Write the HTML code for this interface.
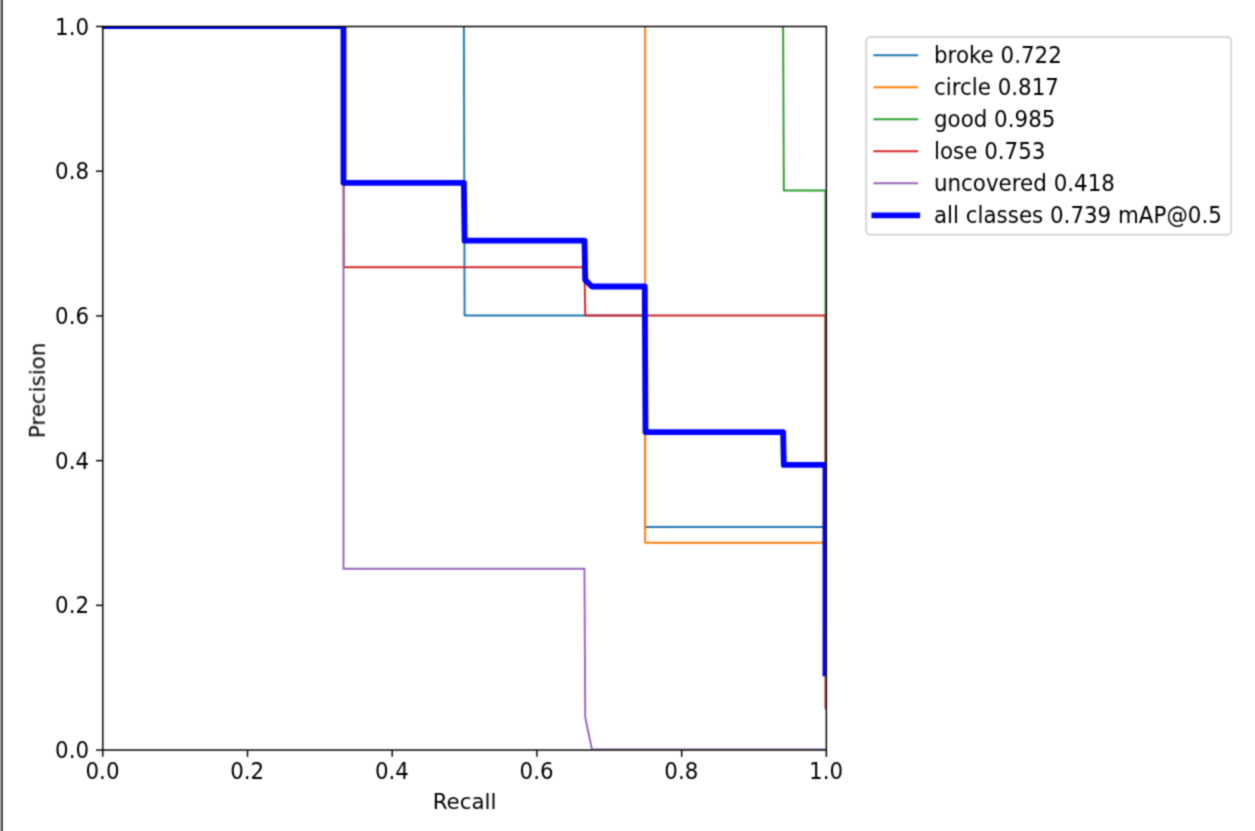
<!DOCTYPE html>
<html lang="en"><head><meta charset="utf-8"><title>Precision-Recall curve</title>
<style>
html,body{margin:0;padding:0;background:#fff;}
body{width:1255px;height:831px;overflow:hidden;position:relative;}
svg{position:absolute;left:0;top:0;display:block;}
text{font-family:"DejaVu Sans","Liberation Sans",sans-serif;font-size:21.40px;fill:#000;}
</style></head><body>
<svg width="1255" height="831" viewBox="0 0 1255 831">
<rect x="0" y="0" width="1255" height="831" fill="#ffffff"/>
<g shape-rendering="crispEdges"><rect x="0" y="0" width="1" height="831" fill="#a2a3a5"/><rect x="1" y="0" width="1" height="831" fill="#6c6d6f"/><rect x="2" y="0" width="1" height="831" fill="#5b5c5e"/><rect x="3" y="0" width="1" height="831" fill="#ececec"/><rect x="4" y="0" width="1" height="831" fill="#fafafa"/></g>
<defs><filter id="bl" color-interpolation-filters="sRGB" x="0" y="0" width="1255" height="831" filterUnits="userSpaceOnUse"><feConvolveMatrix order="3" kernelMatrix="0.0400 0.1200 0.0400 0.1200 0.3600 0.1200 0.0400 0.1200 0.0400" divisor="1" edgeMode="duplicate" preserveAlpha="false"/></filter></defs><g filter="url(#bl)">
<defs><clipPath id="ax"><rect x="102.10" y="26.00" width="723.55" height="723.55"/></clipPath></defs>
<g clip-path="url(#ax)" fill="none" stroke-linejoin="round" stroke-linecap="square">
<path d="M102.10 26.00 L463.88 26.00 L464.60 315.42 L645.12 315.42 L645.12 526.91 L825.45 526.91 L825.45 641.02" stroke="#1f77b4" stroke-width="1.95"/>
<path d="M102.10 26.00 L645.12 26.00 L645.12 542.83 L825.45 542.83 L825.45 641.02" stroke="#ff7f0e" stroke-width="1.95"/>
<path d="M102.10 26.00 L783.11 26.00 L783.83 190.46 L825.45 190.46 L825.45 626.55" stroke="#2ca02c" stroke-width="1.95"/>
<path d="M102.10 26.00 L343.48 26.00 L343.84 267.16 L584.49 267.16 L585.21 315.42 L825.45 315.42 L825.45 708.52" stroke="#d62728" stroke-width="1.95"/>
<path d="M102.10 26.00 L343.48 26.00 L343.48 568.66 L584.49 568.66 L585.21 717.13 L591.94 749.55 L825.45 749.55" stroke="#9467bd" stroke-width="1.95"/>
<path d="M102.10 26.00 L343.48 26.00 L343.48 182.79 L463.88 182.79 L464.60 240.68 L584.49 240.68 L585.21 279.97 L591.94 286.48 L644.76 286.48 L645.49 432.06 L783.11 432.06 L783.83 464.91 L825.45 464.91 L825.45 673.29" stroke="#0000ff" stroke-width="5.83"/>
</g>
<g stroke="#000" stroke-width="1.45" fill="none">
<line x1="102.80" y1="750.05" x2="102.80" y2="756.86"/><line x1="102.80" y1="750.05" x2="95.99" y2="750.05"/>
<line x1="247.51" y1="750.05" x2="247.51" y2="756.86"/><line x1="102.80" y1="605.34" x2="95.99" y2="605.34"/>
<line x1="392.22" y1="750.05" x2="392.22" y2="756.86"/><line x1="102.80" y1="460.63" x2="95.99" y2="460.63"/>
<line x1="536.93" y1="750.05" x2="536.93" y2="756.86"/><line x1="102.80" y1="315.92" x2="95.99" y2="315.92"/>
<line x1="681.64" y1="750.05" x2="681.64" y2="756.86"/><line x1="102.80" y1="171.21" x2="95.99" y2="171.21"/>
<line x1="826.35" y1="750.05" x2="826.35" y2="756.86"/><line x1="102.80" y1="26.50" x2="95.99" y2="26.50"/>
<rect x="102.80" y="26.50" width="723.55" height="723.55" stroke-linejoin="miter"/>
</g>
<g>
<text transform="translate(102.50 779.30) scale(1 1.035)" text-anchor="middle">0.0</text><text transform="translate(89.09 758.01) scale(1 1.085)" text-anchor="end">0.0</text>
<text transform="translate(247.21 779.30) scale(1 1.035)" text-anchor="middle">0.2</text><text transform="translate(89.09 613.10) scale(1 1.085)" text-anchor="end">0.2</text>
<text transform="translate(391.92 779.30) scale(1 1.035)" text-anchor="middle">0.4</text><text transform="translate(89.09 468.89) scale(1 1.085)" text-anchor="end">0.4</text>
<text transform="translate(536.63 779.30) scale(1 1.035)" text-anchor="middle">0.6</text><text transform="translate(89.09 323.98) scale(1 1.085)" text-anchor="end">0.6</text>
<text transform="translate(681.34 779.30) scale(1 1.035)" text-anchor="middle">0.8</text><text transform="translate(89.09 179.12) scale(1 1.085)" text-anchor="end">0.8</text>
<text transform="translate(826.05 779.30) scale(1 1.035)" text-anchor="middle">1.0</text><text transform="translate(89.09 35.36) scale(1 1.085)" text-anchor="end">1.0</text>
<text transform="translate(464.57 808.80) scale(1 1.020)" text-anchor="middle">Recall</text>
<text transform="translate(45.30 390.40) rotate(-90) scale(1 1.020)" text-anchor="middle">Precision</text>
</g>
<rect x="866.20" y="37.00" width="364.90" height="197.80" rx="4.3" ry="4.3" fill="#ffffff" fill-opacity="0.8" stroke="#cccccc" stroke-opacity="0.8" stroke-width="1.95"/>
<line x1="874.35" y1="55.25" x2="917.15" y2="55.25" stroke="#1f77b4" stroke-width="1.95" stroke-linecap="square"/><text transform="translate(934.00 63.25) scale(1 1.045)" text-anchor="start">broke 0.722</text>
<line x1="874.35" y1="87.27" x2="917.15" y2="87.27" stroke="#ff7f0e" stroke-width="1.95" stroke-linecap="square"/><text transform="translate(934.00 95.27) scale(1 1.045)" text-anchor="start">circle 0.817</text>
<line x1="874.35" y1="119.29" x2="917.15" y2="119.29" stroke="#2ca02c" stroke-width="1.95" stroke-linecap="square"/><text transform="translate(934.00 127.29) scale(1 1.045)" text-anchor="start">good 0.985</text>
<line x1="874.35" y1="151.31" x2="917.15" y2="151.31" stroke="#d62728" stroke-width="1.95" stroke-linecap="square"/><text transform="translate(934.00 159.31) scale(1 1.045)" text-anchor="start">lose 0.753</text>
<line x1="874.35" y1="183.33" x2="917.15" y2="183.33" stroke="#9467bd" stroke-width="1.95" stroke-linecap="square"/><text transform="translate(934.00 191.33) scale(1 1.045)" text-anchor="start">uncovered 0.418</text>
<line x1="874.35" y1="215.35" x2="917.15" y2="215.35" stroke="#0000ff" stroke-width="5.83" stroke-linecap="square"/><text transform="translate(934.00 223.35) scale(1 1.045)" text-anchor="start">all classes 0.739 mAP@0.5</text>
</g>
</svg>
</body></html>
